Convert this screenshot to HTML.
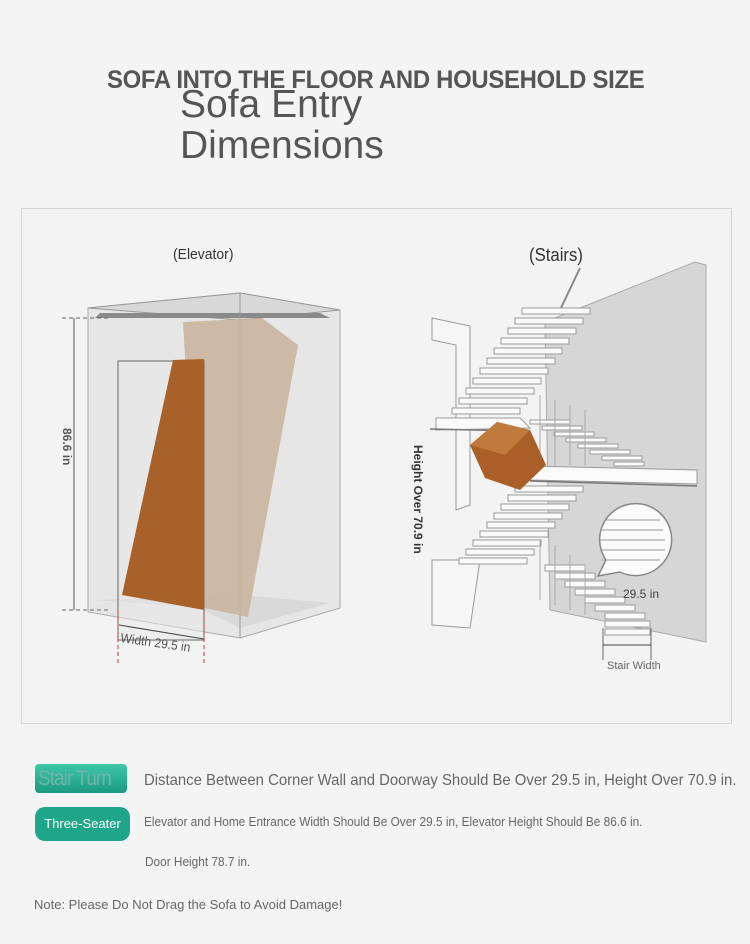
<!DOCTYPE html>
<html><head><meta charset="utf-8"><style>
body{margin:0;width:750px;height:944px;background:#f4f4f4;position:relative;overflow:hidden;font-family:"Liberation Sans Narrow","Liberation Sans",sans-serif;color:#666}
.t{position:absolute;white-space:nowrap;transform-origin:0 0}
</style></head><body>
<div class="t" style="left:107px;top:66px;font-size:25px;font-weight:bold;color:#555;letter-spacing:-0.3px;transform:scaleX(0.955)">SOFA INTO THE FLOOR AND HOUSEHOLD SIZE</div>
<div class="t" style="left:180px;top:84px;font-size:39px;line-height:41px;color:#555">Sofa Entry<br>Dimensions</div>
<div style="position:absolute;left:21px;top:208px;width:709px;height:514px;border:1px solid #d4d4d4;background:#f3f3f3"></div>
<div class="t" style="left:173px;top:246px;font-size:15px;color:#333;transform:scaleX(0.93)">(Elevator)</div>
<div class="t" style="left:529px;top:245px;font-size:18px;color:#333;transform:scaleX(0.93)">(Stairs)</div>
<svg width="750" height="944" style="position:absolute;left:0;top:0" xmlns="http://www.w3.org/2000/svg">
<polygon points="88,308 240,293 340,310 340,608 240,638 88,612" fill="#e6e6e6" stroke="#aaa"/>
<polygon points="88,308 240,293 340,310 240,320" fill="#d8d8d8" stroke="#999"/>
<polygon points="95,318 330,318 320,313 100,313" fill="#8a8a8a"/>
<polygon points="95,600 200,608 240,628 330,603 240,595 100,600" fill="#d9d9d9"/>
<line x1="240" y1="293" x2="240" y2="638" stroke="#999"/>
<polygon points="183,322 262,318 298,345 248,617 200,607" fill="#c9b49f" opacity="0.9"/>
<rect x="118" y="361" width="86" height="279" fill="#e8e8e8" fill-opacity="0.5" stroke="#666"/>
<polygon points="173,360 204,359 204,610 122,595" fill="#a9612a"/>
<line x1="74" y1="318" x2="74" y2="610" stroke="#555"/>
<line x1="62" y1="318" x2="110" y2="318" stroke="#666" stroke-dasharray="4,3"/>
<line x1="62" y1="610" x2="110" y2="610" stroke="#666" stroke-dasharray="4,3"/>
<text x="0" y="0" transform="translate(63,428) rotate(90)" font-size="12" fill="#555" font-weight="bold" font-family="Liberation Sans Narrow,Liberation Sans,sans-serif">86.6 in</text>
<line x1="119" y1="625" x2="204" y2="639" stroke="#444"/>
<line x1="118" y1="610" x2="118" y2="665" stroke="#c33" stroke-dasharray="4,3"/>
<line x1="204" y1="610" x2="204" y2="665" stroke="#c33" stroke-dasharray="4,3"/>
<text transform="translate(120,642) rotate(8) scale(0.93,1)" font-size="13" fill="#555" font-family="Liberation Sans Narrow,Liberation Sans,sans-serif">Width 29.5 in</text>
<polygon points="545,322 695,262 706,265 706,642 550,610" fill="#d6d6d6" stroke="#aaa"/>
<polygon points="432,318 470,326 470,505 456,510 456,345 432,340" fill="#f6f6f6" stroke="#999"/>
<polygon points="432,560 480,560 470,628 432,625" fill="#f6f6f6" stroke="#999"/>
<line x1="560" y1="310" x2="580" y2="268" stroke="#888" stroke-width="2"/>
<g fill="#fafafa" stroke="#999">
<rect x="522" y="308" width="68" height="6"/><rect x="515" y="318" width="68" height="6"/><rect x="508" y="328" width="68" height="6"/><rect x="501" y="338" width="68" height="6"/><rect x="494" y="348" width="68" height="6"/><rect x="487" y="358" width="68" height="6"/><rect x="480" y="368" width="68" height="6"/><rect x="473" y="378" width="68" height="6"/><rect x="466" y="388" width="68" height="6"/><rect x="459" y="398" width="68" height="6"/><rect x="452" y="408" width="68" height="6"/>
<polygon points="436,418 520,418 530,428 436,430"/>
<rect x="530" y="420" width="40" height="4"/><rect x="542" y="426" width="40" height="4"/><rect x="554" y="432" width="40" height="4"/><rect x="566" y="438" width="40" height="4"/><rect x="578" y="444" width="40" height="4"/><rect x="590" y="450" width="40" height="4"/><rect x="602" y="456" width="40" height="4"/><rect x="614" y="462" width="30" height="4"/>
<polygon points="530,466 697,470 697,484 530,480"/>
<rect x="515" y="486" width="68" height="6"/><rect x="508" y="495" width="68" height="6"/><rect x="501" y="504" width="68" height="6"/><rect x="494" y="513" width="68" height="6"/><rect x="487" y="522" width="68" height="6"/><rect x="480" y="531" width="68" height="6"/><rect x="473" y="540" width="68" height="6"/><rect x="466" y="549" width="68" height="6"/><rect x="459" y="558" width="68" height="6"/>
<rect x="545" y="565" width="40" height="6"/><rect x="555" y="573" width="40" height="6"/><rect x="565" y="581" width="40" height="6"/><rect x="575" y="589" width="40" height="6"/><rect x="585" y="597" width="40" height="6"/><rect x="595" y="605" width="40" height="6"/><rect x="605" y="613" width="40" height="6"/><rect x="605" y="621" width="45" height="6"/><rect x="605" y="629" width="45" height="6"/>
</g>
<g stroke="#777" stroke-width="1.5">
<line x1="430" y1="429" x2="520" y2="431"/><line x1="530" y1="481" x2="697" y2="486"/>
</g>
<g stroke="#aaa"><line x1="540" y1="395" x2="540" y2="465"/><line x1="555" y1="400" x2="555" y2="465"/><line x1="570" y1="405" x2="570" y2="465"/><line x1="585" y1="410" x2="585" y2="465"/><line x1="540" y1="540" x2="540" y2="600"/><line x1="555" y1="545" x2="555" y2="605"/><line x1="570" y1="555" x2="570" y2="610"/><line x1="585" y1="565" x2="585" y2="615"/></g>
<polygon points="470,445 497,422 530,430 546,465 520,490 485,478" fill="#a95f27"/>
<polygon points="470,445 497,422 530,430 505,455" fill="#c07a3c"/>
<path d="M606,560 L598,576 L620,572 A36,36 0 1,0 606,560Z" fill="#fafafa" stroke="#888" stroke-width="1.5"/>
<g stroke="#999"><line x1="605" y1="520" x2="660" y2="520"/><line x1="602" y1="530" x2="663" y2="530"/><line x1="600" y1="540" x2="665" y2="540"/><line x1="600" y1="550" x2="665" y2="550"/><line x1="602" y1="560" x2="660" y2="560"/></g>
<text x="623" y="598" font-size="12" fill="#444" font-family="Liberation Sans,sans-serif">29.5 in</text>
<line x1="603" y1="628" x2="603" y2="660" stroke="#666"/><line x1="651" y1="628" x2="651" y2="660" stroke="#666"/>
<line x1="603" y1="645" x2="651" y2="645" stroke="#444"/>
<text x="607" y="669" font-size="11" fill="#666" font-family="Liberation Sans Narrow,Liberation Sans,sans-serif">Stair Width</text>
<text transform="translate(414,445) rotate(90)" font-size="12" font-weight="bold" fill="#333" font-family="Liberation Sans,sans-serif">Height Over 70.9 in</text>
</svg>
<div style="position:absolute;left:35px;top:764px;width:92px;height:29px;border-radius:4px;background:linear-gradient(#3ec7a8,#1c9b7f)"></div>
<div class="t" style="left:38px;top:767px;font-size:21px;color:#6fb5a8;letter-spacing:-1px;transform:scaleX(0.9)">Stair Turn</div>
<div style="position:absolute;left:35px;top:807px;width:95px;height:34px;border-radius:10px;background:#1fa58a;color:#fff;font-size:13px;line-height:34px;text-align:center">Three-Seater</div>
<div class="t" style="left:144px;top:772px;font-size:16px;color:#666;transform:scaleX(0.93)">Distance Between Corner Wall and Doorway Should Be Over 29.5 in, Height Over 70.9 in.</div>
<div class="t" style="left:144px;top:814px;font-size:13px;color:#666;transform:scaleX(0.91)">Elevator and Home Entrance Width Should Be Over 29.5 in, Elevator Height Should Be 86.6 in.</div>
<div class="t" style="left:145px;top:854px;font-size:13px;color:#666;transform:scaleX(0.91)">Door Height 78.7 in.</div>
<div class="t" style="left:34px;top:897px;font-size:13px;color:#666">Note: Please Do Not Drag the Sofa to Avoid Damage!</div>
</body></html>
